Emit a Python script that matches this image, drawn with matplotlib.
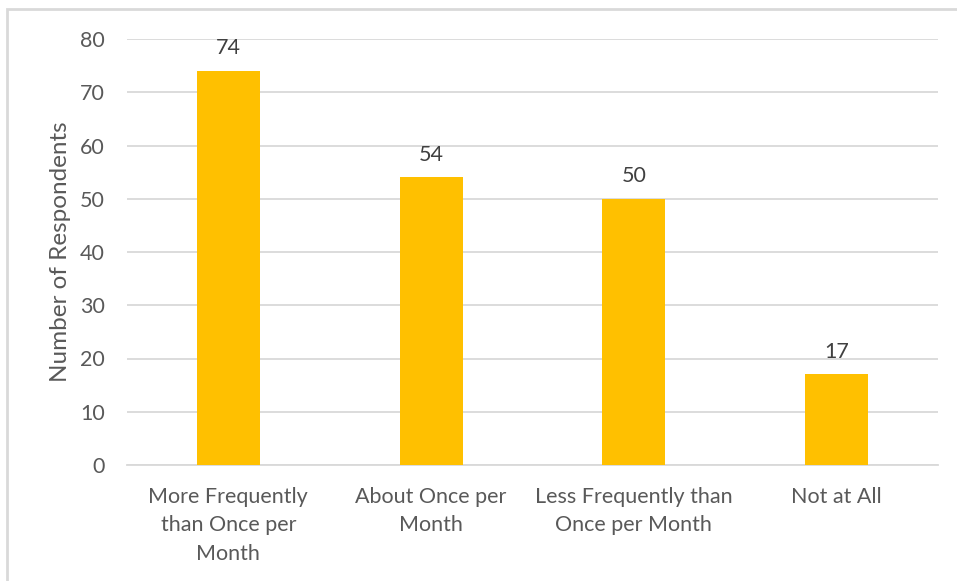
import matplotlib.pyplot as plt
from matplotlib.patches import Rectangle

categories = ['More Frequently\nthan Once per\nMonth', 'About Once per\nMonth',
              'Less Frequently than\nOnce per Month', 'Not at All']
values = [74, 54, 50, 17]
yticks = [0, 10, 20, 30, 40, 50, 60, 70, 80]

plt.rcParams['font.family'] = ['Lato', 'DejaVu Sans']

W, H = 957, 581
fig = plt.figure(figsize=(W / 100, H / 100), dpi=100)
ax = fig.add_axes([127 / W, 1 - 465 / H, (938 - 127) / W, (465 - 39) / H])

# outer frame
fig.patches.append(Rectangle((7 / W, -0.05), 1.1, 1 - 9 / H + 0.05, transform=fig.transFigure,
                             fill=False, edgecolor='#d9d9d9', linewidth=2))

fs = 15.5
x = range(len(categories))
bars = ax.bar(x, values, width=0.31, color='#ffc000', zorder=3)
for xi, v in zip(x, values):
    ax.annotate(str(v), (xi, v), xytext=(0, 9), textcoords='offset points',
                ha='center', va='bottom', fontsize=fs, color='#404040')

ax.set_xlim(-0.5, len(categories) - 0.5)
ax.set_ylim(0, 80)
ax.set_yticks(yticks)
ax.yaxis.grid(True, color='#d9d9d9', linewidth=1.3, zorder=0)
ax.set_xticks(list(x))
ax.set_xticklabels(categories, fontsize=fs, color='#595959', linespacing=1.56)
ax.tick_params(axis='y', labelsize=fs, labelcolor='#595959', length=0, pad=16)
ax.tick_params(axis='x', length=0, pad=15.5)
for s in ['top', 'right', 'left']:
    ax.spines[s].set_visible(False)
ax.spines['bottom'].set_color('#d9d9d9')
ax.spines['bottom'].set_linewidth(1.3)
ax.set_ylabel('Number of Respondents', fontsize=17.5, color='#595959', labelpad=6.5)

fig.savefig('out.png', dpi=100)
